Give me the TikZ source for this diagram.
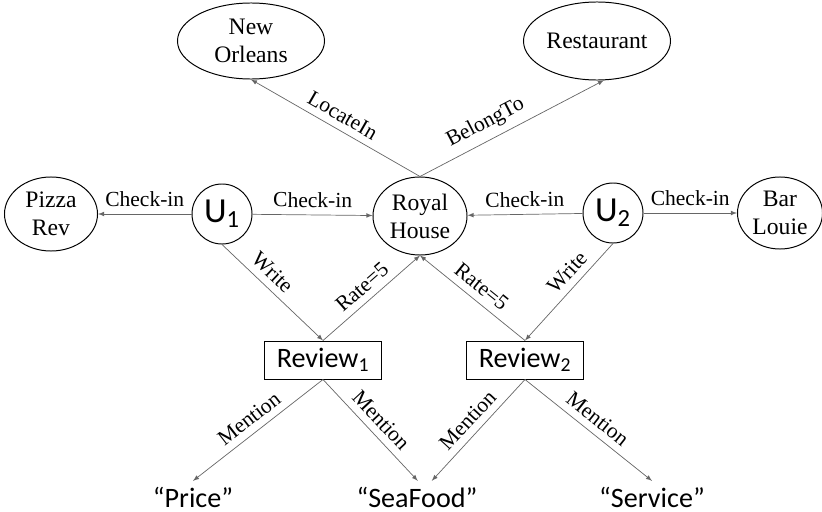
\documentclass[tikz,border=0pt]{standalone}
\usepackage{fontspec}
\setmainfont{Liberation Serif}
\newfontfamily\carlito{Carlito}
\usetikzlibrary{shapes.geometric}
\usetikzlibrary{arrows}

\begin{document}
\begin{tikzpicture}[x=0.025cm, y=-0.025cm,
  place/.style={ellipse, draw, line width=0.7pt, inner sep=0pt, align=center, font=\fontsize{16.8}{20}\selectfont},
  user/.style={circle, draw, line width=0.7pt, inner sep=0pt, minimum size=1.5cm, font=\carlito\fontsize{25}{30}\selectfont},
  review/.style={rectangle, draw, line width=0.7pt, inner sep=0pt, minimum width=2.925cm, minimum height=0.95cm, font=\carlito\fontsize{20}{24}\selectfont},
  word/.style={inner sep=4pt, font=\carlito\fontsize{20}{24}\selectfont},
  rel/.style={->, >=latex, draw=black!60, line width=0.5pt},
  lab/.style={sloped, above, inner sep=5pt, text=black, font=\fontsize{15.3}{18}\selectfont}]
\useasboundingbox (0,0) rectangle (822,512);

\node[place, minimum width=3.675cm, minimum height=1.9cm] (nola) at (251,41) {New\\Orleans};
\node[place, minimum width=3.675cm, minimum height=1.95cm] (rest) at (597,41) {Restaurant};
\node[place, minimum width=2.325cm, minimum height=1.85cm] (pizza) at (51,214) {Pizza\\Rev};
\node[place, minimum width=2.35cm, minimum height=1.95cm] (royal) at (420,216) {Royal\\House};
\node[place, minimum width=2.125cm, minimum height=1.8cm] (bar) at (780,213) {Bar\\Louie};
\node[user] (u1) at (222,214) {U\textsubscript{1}};
\node[user] (u2) at (613,213) {U\textsubscript{2}};
\node[review] (rev1) at (323,360) {Review\textsubscript{1}};
\node[review] (rev2) at (525,360) {Review\textsubscript{2}};
\node[word] (price) at (193,497) {“Price”};
\node[word] (sea) at (417,497) {“SeaFood”};
\node[word] (serv) at (652,497) {“Service”};

\draw[rel] (u1) -- node[lab] {Check-in} (pizza);
\draw[rel] (u1) -- node[lab] {Check-in} (royal);
\draw[rel] (u2) -- node[lab] {Check-in} (royal);
\draw[rel] (u2) -- node[lab] {Check-in} (bar);
\draw[rel] (royal.north) -- node[lab] {LocateIn} (nola.south);
\draw[rel] (royal.north) -- node[lab, pos=0.4] {BelongTo} (rest.-80);
\draw[rel] (u1.south) -- node[lab, pos=0.4] {Write} (rev1.north);
\draw[rel] (u2.south) -- node[lab, pos=0.4] {Write} (rev2.north);
\draw[rel] (rev1.north) -- node[lab] {Rate=5} (royal.south);
\draw[rel] (rev2.north) -- node[lab] {Rate=5} (royal.south);
\draw[rel] (rev1.south) -- node[lab] {Mention} (price.north);
\draw[rel] (rev1.south) -- node[lab] {Mention} ([xshift=0.02cm]sea.north);
\draw[rel] (rev2.south) -- node[lab] {Mention} ([xshift=0.37cm]sea.north);
\draw[rel] (rev2.south) -- node[lab] {Mention} (serv.north);
\end{tikzpicture}
\end{document}
